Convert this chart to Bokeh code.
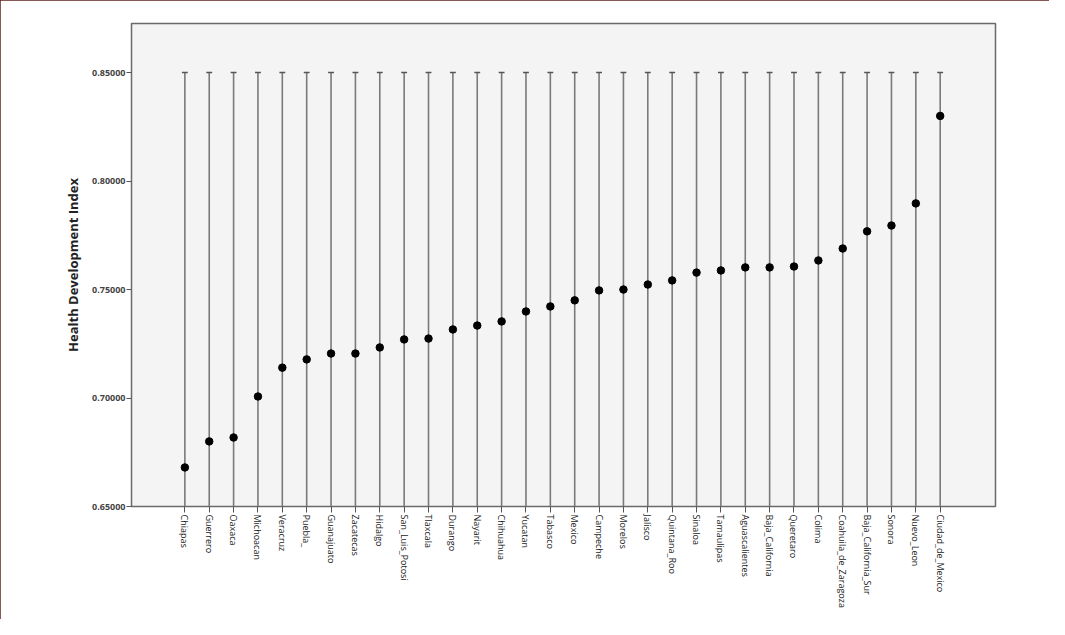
import math
from bokeh.plotting import figure
from bokeh.models import Range1d, FixedTicker, NumeralTickFormatter, ColumnDataSource
from bokeh.embed import file_html
from bokeh.resources import INLINE

states = ["Chiapas", "Guerrero", "Oaxaca", "Michoacan", "Veracruz", "Puebla_",
          "Guanajuato", "Zacatecas", "Hidalgo", "San_Luis_Potosi", "Tlaxcala",
          "Durango", "Nayarit", "Chihuahua", "Yucatan", "Tabasco", "Mexico",
          "Campeche", "Morelos", "Jalisco", "Quintana_Roo", "Sinaloa",
          "Tamaulipas", "Aguascalientes", "Baja_California", "Queretaro",
          "Colima", "Coahuila_de_Zaragoza", "Baja_California_Sur", "Sonora",
          "Nuevo_Leon", "Ciudad_de_Mexico"]
hdi = [0.668, 0.680, 0.6818, 0.7007, 0.7140, 0.7178, 0.7205, 0.7205, 0.7233,
       0.7270, 0.7274, 0.7316, 0.7334, 0.7353, 0.7399, 0.7422, 0.7450, 0.7496,
       0.7500, 0.7523, 0.7542, 0.7578, 0.7588, 0.7602, 0.7602, 0.7606, 0.7634,
       0.7689, 0.7768, 0.7795, 0.7897, 0.8300]
line_low = 0.65
line_high = 0.85
y_ticks = [0.65, 0.70, 0.75, 0.80, 0.85]

n = len(states)
xs = list(range(n))
src = ColumnDataSource(dict(x=xs, y=hdi, lo=[line_low] * n, hi=[line_high] * n,
                            xl=[i - 0.12 for i in xs], xr=[i + 0.12 for i in xs]))

p = figure(width=1049, height=619, output_backend="svg", toolbar_location=None,
           x_range=Range1d(-2.19, n - 1 + 2.27), y_range=Range1d(0.65, 0.8726),
           min_border_left=131, min_border_right=54, min_border_top=23,
           min_border_bottom=113)
p.styles = {"outline": "2px solid #5e1f1f", "outline-offset": "-2px"}
p.background_fill_color = "#f4f4f4"
p.border_fill_color = "white"
p.outline_line_color = "#6a6a6a"
p.outline_line_width = 1.5
p.grid.visible = False

p.segment(x0="x", y0="lo", x1="x", y1="hi", source=src, line_color="#7a7a7a", line_width=1.6)
p.segment(x0="xl", y0="hi", x1="xr", y1="hi", source=src, line_color="#555555", line_width=1.6)
p.scatter(x="x", y="y", source=src, size=7.5, fill_color="black", line_color="black")

xa = p.xaxis[0]
xa.ticker = FixedTicker(ticks=xs)
xa.major_label_overrides = {i: s for i, s in enumerate(states)}
xa.major_label_orientation = -math.pi / 2
xa.major_label_text_font = "Open Sans"
xa.major_label_text_font_size = "9px"
xa.major_label_text_color = "#1a1a1a"
xa.major_tick_out = 6
xa.major_tick_in = 0
xa.minor_tick_line_color = None
xa.major_tick_line_color = "#555555"
xa.axis_line_color = "#6a6a6a"
xa.major_label_standoff = 2

ya = p.yaxis[0]
ya.ticker = FixedTicker(ticks=y_ticks)
ya.formatter = NumeralTickFormatter(format="0.00000")
ya.major_label_text_font = "Open Sans"
ya.major_label_text_font_size = "9px"
ya.major_label_text_font_style = "bold"
ya.major_label_text_color = "#444444"
ya.major_tick_out = 5
ya.major_tick_in = 0
ya.minor_tick_line_color = None
ya.major_tick_line_color = "#555555"
ya.axis_line_color = "#6a6a6a"
ya.major_label_standoff = 1
ya.axis_label = "Health Development Index"
ya.axis_label_text_font = "Open Sans"
ya.axis_label_text_font_size = "13px"
ya.axis_label_text_font_style = "bold"
ya.axis_label_text_color = "#222222"
ya.axis_label_standoff = 7

open("out.html", "w").write(file_html(p, INLINE))
